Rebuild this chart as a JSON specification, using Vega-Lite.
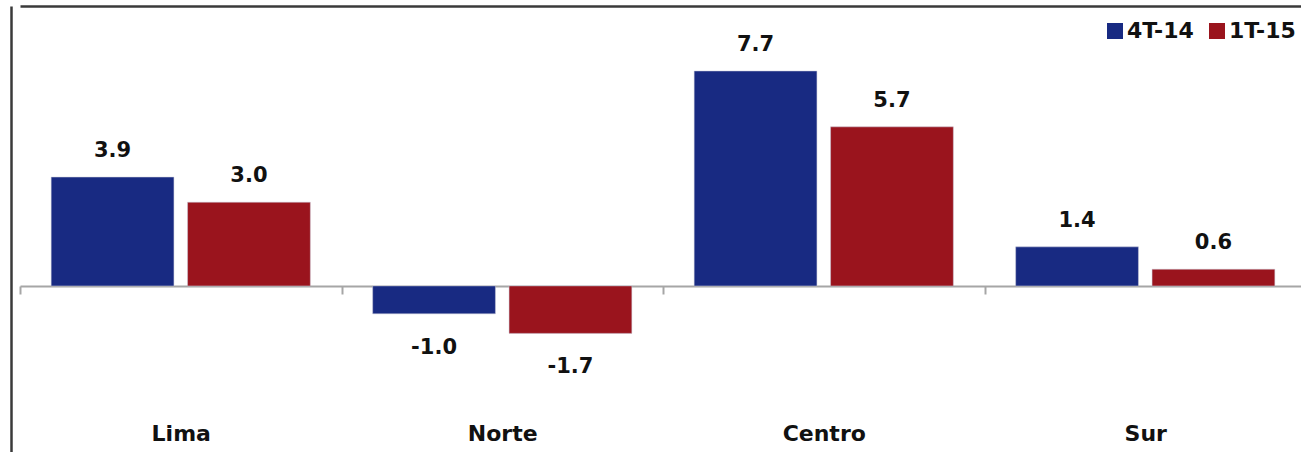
{
  "$schema": "https://vega.github.io/schema/vega-lite/v6.json",
  "autosize": {"type": "none"},
  "padding": {"left": 20, "top": 6, "right": -5, "bottom": 0},
  "width": 1286,
  "height": 446,
  "background": "white",
  "view": {"stroke": null},
  "config": {
    "font": "DejaVu Sans",
    "axis": {"grid": false},
    "locale": {
      "number": {"decimal": ".", "thousands": ",", "grouping": [3], "currency": ["$", ""], "minus": "-"}
    }
  },
  "data": {
    "values": [
      {"region": "Lima", "serie": "4T-14", "valor": 3.9},
      {"region": "Lima", "serie": "1T-15", "valor": 3.0},
      {"region": "Norte", "serie": "4T-14", "valor": -1.0},
      {"region": "Norte", "serie": "1T-15", "valor": -1.7},
      {"region": "Centro", "serie": "4T-14", "valor": 7.7},
      {"region": "Centro", "serie": "1T-15", "valor": 5.7},
      {"region": "Sur", "serie": "4T-14", "valor": 1.4},
      {"region": "Sur", "serie": "1T-15", "valor": 0.6}
    ]
  },
  "encoding": {
    "x": {
      "field": "region",
      "type": "nominal",
      "sort": null,
      "scale": {"paddingInner": 0, "paddingOuter": 0}
    },
    "xOffset": {
      "field": "serie",
      "type": "nominal",
      "sort": ["4T-14", "1T-15"],
      "scale": {"paddingInner": 0.1, "paddingOuter": 0.2285}
    },
    "y": {
      "field": "valor",
      "type": "quantitative",
      "scale": {"domain": [-5.95, 10.03], "nice": false, "zero": false}
    }
  },
  "layer": [
    {
      "mark": {"type": "bar", "stroke": "#c8c8d8", "strokeWidth": 0.5},
      "encoding": {
        "x": {
          "field": "region",
          "type": "nominal",
          "sort": null,
          "title": null,
          "axis": {
            "orient": "bottom",
            "offset": -166,
            "domain": true,
            "domainColor": "#a6a6a6",
            "domainWidth": 2,
            "ticks": true,
            "tickBand": "extent",
            "tickColor": "#a6a6a6",
            "tickWidth": 2,
            "tickSize": 8,
            "labelAngle": 0,
            "labelFont": "DejaVu Sans",
            "labelFontWeight": "bold",
            "labelFontSize": 22,
            "labelColor": "#111111",
            "labelPadding": 129
          }
        },
        "y": {
          "field": "valor",
          "type": "quantitative",
          "title": null,
          "axis": {
            "orient": "left",
            "offset": 9,
            "domain": true,
            "domainColor": "#3a3a3a",
            "domainWidth": 2.5,
            "ticks": false,
            "labels": false,
            "grid": false
          }
        },
        "color": {
          "field": "serie",
          "type": "nominal",
          "sort": ["4T-14", "1T-15"],
          "scale": {"domain": ["4T-14", "1T-15"], "range": ["#182a82", "#9a141d"]},
          "legend": {
            "title": null,
            "orient": "none",
            "direction": "horizontal",
            "legendX": 1084,
            "legendY": 14,
            "symbolType": "square",
            "symbolSize": 256,
            "symbolStrokeWidth": 0,
            "labelFont": "DejaVu Sans",
            "labelFontWeight": "bold",
            "labelFontSize": 22,
            "labelColor": "#111111",
            "labelOffset": 1,
            "columnPadding": 12
          }
        }
      }
    },
    {
      "transform": [{"filter": "datum.valor >= 0"}],
      "mark": {"type": "text", "baseline": "alphabetic", "dy": -20, "fontSize": 21, "fontWeight": "bold", "color": "#111111"},
      "encoding": {
        "x": {
          "field": "region",
          "type": "nominal",
          "sort": null,
          "title": null,
          "axis": {
            "orient": "top",
            "domain": true,
            "domainColor": "#3a3a3a",
            "domainWidth": 2.5,
            "ticks": false,
            "labels": false
          }
        },
        "text": {"field": "valor", "type": "quantitative", "format": ".1f"}
      }
    },
    {
      "transform": [{"filter": "datum.valor < 0"}],
      "mark": {"type": "text", "baseline": "alphabetic", "dy": 40, "fontSize": 21, "fontWeight": "bold", "color": "#111111"},
      "encoding": {
        "x": {"field": "region", "type": "nominal", "sort": null, "axis": null},
        "text": {"field": "valor", "type": "quantitative", "format": ".1f"}
      }
    }
  ],
  "resolve": {"axis": {"x": "independent"}}
}
